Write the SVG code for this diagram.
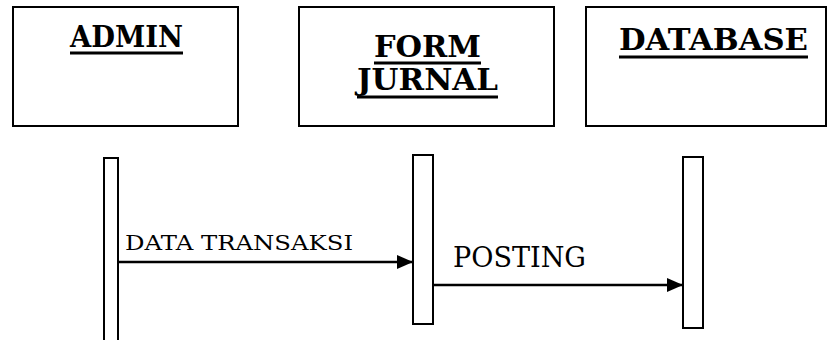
<svg xmlns="http://www.w3.org/2000/svg" width="832" height="340" viewBox="0 0 832 340">
  <style>
    .box { fill: #fff; stroke: #000; stroke-width: 2; }
    .bar { fill: #fff; stroke: #000; stroke-width: 2; }
    .title { font-family: 'DejaVu Serif', 'Liberation Serif', serif; font-weight: bold; font-size: 29px; fill: #000; }
    .ul { stroke: #000; stroke-width: 3; }
    .msg { font-family: 'DejaVu Serif', 'Liberation Serif', serif; fill: #000; }
    .conn { stroke: #000; stroke-width: 2.5; fill: none; }
  </style>
  <defs>
    <marker id="arrow" viewBox="0 0 16 14" refX="16" refY="7" markerWidth="16" markerHeight="14" markerUnits="userSpaceOnUse" orient="auto">
      <path d="M0,0 L16,7 L0,14 Z" fill="#000"/>
    </marker>
  </defs>

  <rect width="832" height="340" fill="#fff"/>

  <g id="admin">
    <rect class="box" x="13" y="7" width="225" height="119"/>
    <text class="title" x="70" y="47" textLength="113" lengthAdjust="spacingAndGlyphs">ADMIN</text>
    <line class="ul" x1="70" y1="53" x2="183" y2="53"/>
    <rect class="bar" x="104" y="158" width="14" height="190"/>
  </g>

  <g id="form-jurnal">
    <rect class="box" x="299" y="7" width="255" height="119"/>
    <text class="title" x="374" y="57" textLength="107" lengthAdjust="spacingAndGlyphs">FORM</text>
    <line class="ul" x1="374" y1="63" x2="481" y2="63"/>
    <text class="title" x="357" y="90" textLength="141" lengthAdjust="spacingAndGlyphs">JURNAL</text>
    <line class="ul" x1="357" y1="97" x2="498" y2="97"/>
    <rect class="bar" x="413" y="155" width="20" height="169"/>
  </g>

  <g id="database">
    <rect class="box" x="586" y="7" width="240" height="119"/>
    <text class="title" x="619" y="50" textLength="189" lengthAdjust="spacingAndGlyphs">DATABASE</text>
    <line class="ul" x1="619" y1="57" x2="808" y2="57"/>
    <rect class="bar" x="683" y="157" width="20" height="171"/>
  </g>

  <g id="connectors">
    <line class="conn" x1="118" y1="262" x2="413" y2="262" marker-end="url(#arrow)"/>
    <text class="msg" x="125" y="250" font-size="21" textLength="228" lengthAdjust="spacingAndGlyphs">DATA TRANSAKSI</text>
    <line class="conn" x1="433" y1="285" x2="683" y2="285" marker-end="url(#arrow)"/>
    <text class="msg" x="453" y="267" font-size="28" textLength="133" lengthAdjust="spacingAndGlyphs">POSTING</text>
  </g>
</svg>
